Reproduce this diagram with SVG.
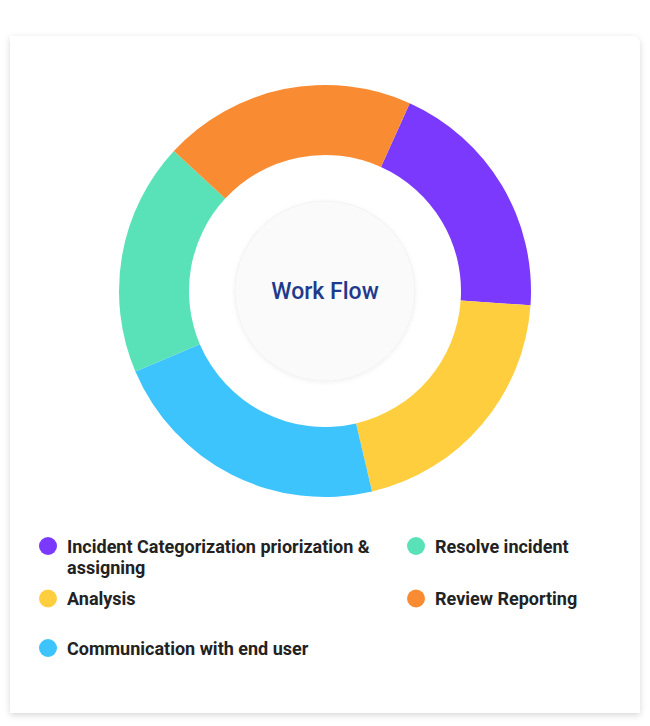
<svg xmlns="http://www.w3.org/2000/svg" width="650" height="726" viewBox="0 0 650 726">
  <defs>
    <filter id="cardShadow" x="-5%" y="-5%" width="110%" height="110%">
      <feDropShadow dx="0" dy="2" stdDeviation="3" flood-color="#000" flood-opacity="0.16"/>
    </filter>
    <filter id="hubShadow" x="-20%" y="-20%" width="140%" height="140%">
      <feDropShadow dx="0" dy="1" stdDeviation="2" flood-color="#000" flood-opacity="0.06"/>
    </filter>
    <style>
      .legend { font-family: Roboto, "Liberation Sans", sans-serif; font-weight: 700; font-size: 18px; fill: #222222; }
      .title { font-family: Roboto, "Liberation Sans", sans-serif; font-weight: 500; font-size: 23px; fill: #1f3a8c; }
      .purple { fill: #7b39fd; }
      .yellow { fill: #ffce3f; }
      .blue { fill: #3ec4fc; }
      .green { fill: #59e2b7; }
      .orange { fill: #f98b33; }
    </style>
  </defs>

  <rect width="650" height="726" fill="#ffffff"/>

  <g id="card">
    <path d="M10 36 H632 A8 8 0 0 1 640 44 V713 H10 Z" fill="#ffffff" filter="url(#cardShadow)"/>
  </g>

  <g id="donut">
    <g id="seg-purple">
      <path class="purple" d="M409.77 103.25 A206 206 0 0 1 530.50 305.37 L460.67 300.49 A136 136 0 0 0 380.96 167.05 Z"/>
    </g>
    <g id="seg-yellow">
      <path class="yellow" d="M530.50 305.37 A206 206 0 0 1 372.05 491.56 L356.06 423.41 A136 136 0 0 0 460.67 300.49 Z"/>
    </g>
    <g id="seg-blue">
      <path class="blue" d="M372.05 491.56 A206 206 0 0 1 135.38 371.48 L199.81 344.14 A136 136 0 0 0 356.06 423.41 Z"/>
    </g>
    <g id="seg-green">
      <path class="green" d="M135.38 371.48 A206 206 0 0 1 173.86 151.04 L225.22 198.60 A136 136 0 0 0 199.81 344.14 Z"/>
    </g>
    <g id="seg-orange">
      <path class="orange" d="M173.86 151.04 A206 206 0 0 1 409.77 103.25 L380.96 167.05 A136 136 0 0 0 225.22 198.60 Z"/>
    </g>
  </g>

  <g id="center-hub">
    <circle cx="325" cy="291" r="90" fill="#fafafa" stroke="#f2f2f2" stroke-width="1" filter="url(#hubShadow)"/>
    <text class="title" x="325" y="299" text-anchor="middle">Work Flow</text>
  </g>

  <g id="legend">
    <g id="legend-incident">
      <circle class="purple" cx="48" cy="546" r="9"/>
      <text class="legend" x="67" y="553">Incident Categorization priorization &amp;</text>
      <text class="legend" x="67" y="574">assigning</text>
    </g>
    <g id="legend-resolve">
      <circle class="green" cx="416" cy="546" r="9"/>
      <text class="legend" x="435" y="553">Resolve incident</text>
    </g>
    <g id="legend-analysis">
      <circle class="yellow" cx="48" cy="598.5" r="9"/>
      <text class="legend" x="67" y="605">Analysis</text>
    </g>
    <g id="legend-review">
      <circle class="orange" cx="416" cy="598.5" r="9"/>
      <text class="legend" x="435" y="605">Review Reporting</text>
    </g>
    <g id="legend-communication">
      <circle class="blue" cx="48" cy="648" r="9"/>
      <text class="legend" x="67" y="655">Communication with end user</text>
    </g>
  </g>

  <g id="connectors"/>
</svg>
